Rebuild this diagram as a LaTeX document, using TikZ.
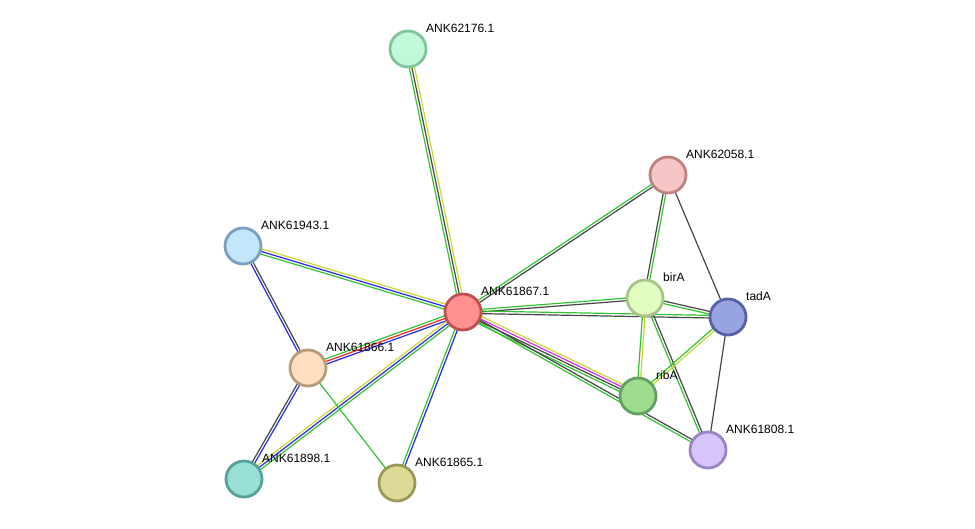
\documentclass[tikz,border=0pt]{standalone}
\usepackage{fontspec}
\setmainfont{Liberation Sans}
\usetikzlibrary{calc}
\pgfdeclarelayer{bg}
\pgfsetlayers{bg,main}
\definecolor{eg}{RGB}{50,195,50}
\definecolor{eb}{RGB}{40,40,235}
\definecolor{ey}{RGB}{200,215,50}
\definecolor{em}{RGB}{215,50,215}
\definecolor{er}{RGB}{240,40,40}
\definecolor{ed}{RGB}{70,70,70}
\definecolor{f1}{RGB}{192,248,216}\definecolor{b1}{RGB}{128,196,154}
\definecolor{f2}{RGB}{246,198,198}\definecolor{b2}{RGB}{192,128,128}
\definecolor{f3}{RGB}{195,230,250}\definecolor{b3}{RGB}{122,159,191}
\definecolor{f4}{RGB}{255,144,144}\definecolor{b4}{RGB}{192,80,80}
\definecolor{f5}{RGB}{224,252,192}\definecolor{b5}{RGB}{168,196,136}
\definecolor{f6}{RGB}{152,164,224}\definecolor{b6}{RGB}{88,96,168}
\definecolor{f7}{RGB}{253,223,192}\definecolor{b7}{RGB}{184,154,124}
\definecolor{f8}{RGB}{160,220,144}\definecolor{b8}{RGB}{96,160,96}
\definecolor{f9}{RGB}{214,196,250}\definecolor{b9}{RGB}{154,132,196}
\definecolor{f10}{RGB}{152,224,214}\definecolor{b10}{RGB}{88,160,152}
\definecolor{f11}{RGB}{221,218,152}\definecolor{b11}{RGB}{154,154,88}
\tikzset{
  prot/.style args={#1/#2}{circle,minimum size=36pt,inner sep=0pt,line width=2.8pt,fill=#1,draw=#2},
  lbl/.style={anchor=west,inner sep=0pt,font=\fontsize{12pt}{13pt}\selectfont,text=black},
  elin/.style={line width=1.2pt}
}
\newcommand\medge[4]{%
  \foreach \c [count=\i] in {#4} {%
    \pgfmathsetmacro\off{(\i-(#3+1)/2)*2.6}%
    \draw[elin,\c] ($(#1.center)!\off pt!90:(#2.center)$) -- ($(#2.center)!\off pt!-90:(#1.center)$);
  }%
}
\begin{document}
\begin{tikzpicture}[x=1pt,y=-1pt]
\useasboundingbox (0,0) rectangle (975,529);
\node[prot=f1/b1] (n62176) at (408,49) {};
\node[prot=f2/b2] (n62058) at (668,175) {};
\node[prot=f3/b3] (n61943) at (243,246) {};
\node[prot=f4/b4] (n61867) at (463,312) {};
\node[prot=f5/b5] (birA) at (645,298) {};
\node[prot=f6/b6] (tadA) at (728,317) {};
\node[prot=f7/b7] (n61866) at (308,368) {};
\node[prot=f8/b8] (ribA) at (638,396) {};
\node[prot=f9/b9] (n61808) at (708,450) {};
\node[prot=f10/b10] (n61898) at (244,479) {};
\node[prot=f11/b11] (n61865) at (397,483) {};
\node[lbl] (l62176) at ($(n62176)+(18,-21)$) {ANK62176.1};
\node[lbl] (l62058) at ($(n62058)+(18,-21)$) {ANK62058.1};
\node[lbl] (l61943) at ($(n61943)+(18,-21)$) {ANK61943.1};
\node[lbl] (l61867) at ($(n61867)+(18,-21)$) {ANK61867.1};
\node[lbl] (lbirA) at ($(birA)+(18,-21)$) {birA};
\node[lbl] (ltadA) at ($(tadA)+(18,-21)$) {tadA};
\node[lbl] (l61866) at ($(n61866)+(18,-21)$) {ANK61866.1};
\node[lbl] (lribA) at ($(ribA)+(18,-21)$) {ribA};
\node[lbl] (l61808) at ($(n61808)+(18,-21)$) {ANK61808.1};
\node[lbl] (l61898) at ($(n61898)+(18,-21)$) {ANK61898.1};
\node[lbl] (l61865) at ($(n61865)+(18,-21)$) {ANK61865.1};
\begin{pgfonlayer}{bg}
\medge{n62176}{n61867}{3}{eg,ed,ey}
\medge{n61943}{n61867}{3}{eg,eb,ey}
\medge{n61866}{n61867}{3}{eb,er,eg}
\medge{n61898}{n61867}{3}{eg,eb,ey}
\medge{n61865}{n61867}{2}{eb,eg}
\medge{n61943}{n61866}{2}{eb,ed}
\medge{n61866}{n61898}{2}{ed,eb}
\medge{n61866}{n61865}{1}{eg}
\medge{n61867}{n62058}{2}{ed,eg}
\medge{n61867}{birA}{2}{ed,eg}
\medge{n61867}{tadA}{2}{ed,eg}
\medge{n61867}{ribA}{4}{eg,ed,em,ey}
\medge{n61867}{n61808}{2}{eg,ed}
\medge{n62058}{birA}{2}{ed,eg}
\medge{n62058}{tadA}{1}{ed}
\medge{birA}{tadA}{2}{eg,ed}
\medge{birA}{ribA}{2}{eg,ey}
\medge{birA}{n61808}{2}{eg,ed}
\medge{tadA}{ribA}{2}{eg,ey}
\medge{tadA}{n61808}{1}{ed}
\end{pgfonlayer}
\end{tikzpicture}
\end{document}
